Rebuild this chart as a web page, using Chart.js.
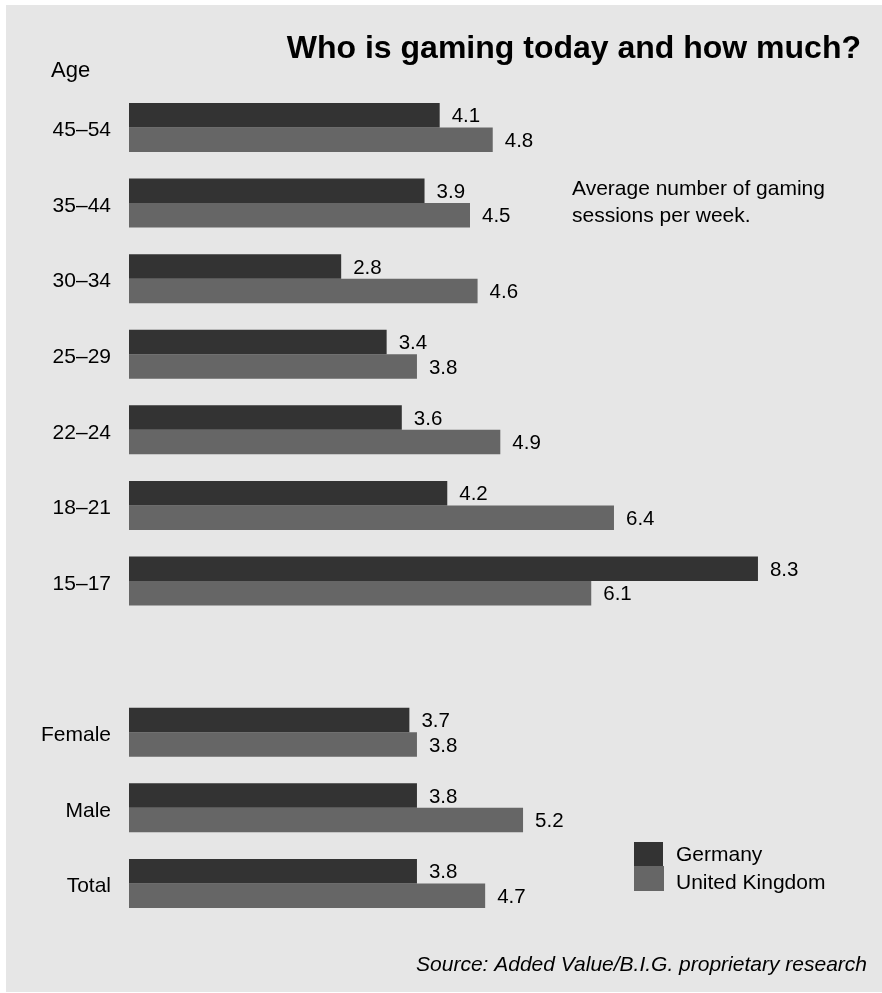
<!DOCTYPE html>
<html>
<head>
<meta charset="utf-8">
<title>Gaming sessions per week</title>
<script src="https://cdn.jsdelivr.net/npm/chart.js@4.4.1/dist/chart.umd.min.js"></script>
<style>
  html, body { margin: 0; padding: 0; background: #ffffff; }
  #wrap { width: 882px; height: 993px; }
</style>
</head>
<body>
<div id="wrap"><canvas id="chart" width="882" height="993"></canvas></div>
<script>
/* global Chart */
// age groups, an empty spacer row, then gender and total
const categories = ["45–54", "35–44", "30–34", "25–29", "22–24", "18–21", "15–17", "", "Female", "Male", "Total"];
const germany = [4.1, 3.9, 2.8, 3.4, 3.6, 4.2, 8.3, null, 3.7, 3.8, 3.8];
const unitedKingdom = [4.8, 4.5, 4.6, 3.8, 4.9, 6.4, 6.1, null, 3.8, 5.2, 4.7];
const seriesNames = ["Germany", "United Kingdom"];

const darkBar = "#333333";
const lightBar = "#666666";
const fontFamily = "'Liberation Sans', Arial, Helvetica, sans-serif";

// grey panel behind everything
const panel = {
  id: "panel",
  beforeDraw(chart) {
    const ctx = chart.ctx;
    ctx.save();
    ctx.fillStyle = "#e6e6e6";
    ctx.fillRect(6, 5, 876, 987);
    ctx.restore();
  }
};

// value at the end of each bar
const barValues = {
  id: "barValues",
  afterDatasetsDraw(chart) {
    const ctx = chart.ctx;
    ctx.save();
    ctx.font = "20.5px " + fontFamily;
    ctx.fillStyle = "#000000";
    ctx.textAlign = "left";
    ctx.textBaseline = "middle";
    chart.data.datasets.forEach(function (ds, i) {
      chart.getDatasetMeta(i).data.forEach(function (bar, j) {
        if (ds.data[j] == null) return;
        ctx.fillText(ds.data[j].toFixed(1), bar.x + 12, bar.y + 1.5);
      });
    });
    ctx.restore();
  }
};

// title, axis caption, note, legend and source line
const extras = {
  id: "extras",
  afterDraw(chart) {
    const ctx = chart.ctx;
    ctx.save();
    ctx.fillStyle = "#000000";
    ctx.textBaseline = "alphabetic";

    ctx.font = "bold 32px " + fontFamily;
    ctx.textAlign = "right";
    ctx.fillText("Who is gaming today and how much?", 861, 58);

    ctx.textAlign = "left";
    ctx.font = "22px " + fontFamily;
    ctx.fillText("Age", 51, 77);

    ctx.font = "21px " + fontFamily;
    ctx.fillText("Average number of gaming", 572, 195);
    ctx.fillText("sessions per week.", 572, 222);

    // legend: two swatches stacked without a gap
    const colors = [darkBar, lightBar];
    const rows = [{ y: 842, h: 24, w: 29, base: 861 }, { y: 866, h: 25, w: 30, base: 889 }];
    rows.forEach(function (r, i) {
      ctx.fillStyle = colors[i];
      ctx.fillRect(634, r.y, r.w, r.h);
      ctx.fillStyle = "#000000";
      ctx.fillText(seriesNames[i], 676, r.base);
    });

    ctx.font = "italic 21px " + fontFamily;
    ctx.textAlign = "right";
    ctx.fillText("Source: Added Value/B.I.G. proprietary research", 867, 971);
    ctx.restore();
  }
};

const ctx = document.getElementById("chart").getContext("2d");
const chart = new Chart(ctx, {
  type: "bar",
  data: {
    labels: categories,
    datasets: [
      {
        label: seriesNames[0],
        data: germany,
        backgroundColor: darkBar,
        borderWidth: 0,
        barPercentage: 1,
        categoryPercentage: 0.648
      },
      {
        label: seriesNames[1],
        data: unitedKingdom,
        backgroundColor: lightBar,
        borderWidth: 0,
        barPercentage: 1,
        categoryPercentage: 0.648
      }
    ]
  },
  options: {
    indexAxis: "y",
    responsive: false,
    animation: false,
    layout: {
      padding: { left: 6, right: 71, top: 89.7, bottom: 71.8 }
    },
    plugins: {
      legend: { display: false },
      title: { display: false },
      tooltip: { enabled: false }
    },
    scales: {
      x: {
        display: false,
        min: 0,
        max: 9
      },
      y: {
        grid: { display: false, drawTicks: false },
        border: { display: false },
        ticks: {
          autoSkip: false,
          padding: 18,
          labelOffset: 3,
          color: "#000000",
          font: { family: fontFamily, size: 21 }
        },
        afterFit(scale) {
          scale.width = 123;
        }
      }
    }
  },
  plugins: [panel, barValues, extras]
});
</script>
</body>
</html>
